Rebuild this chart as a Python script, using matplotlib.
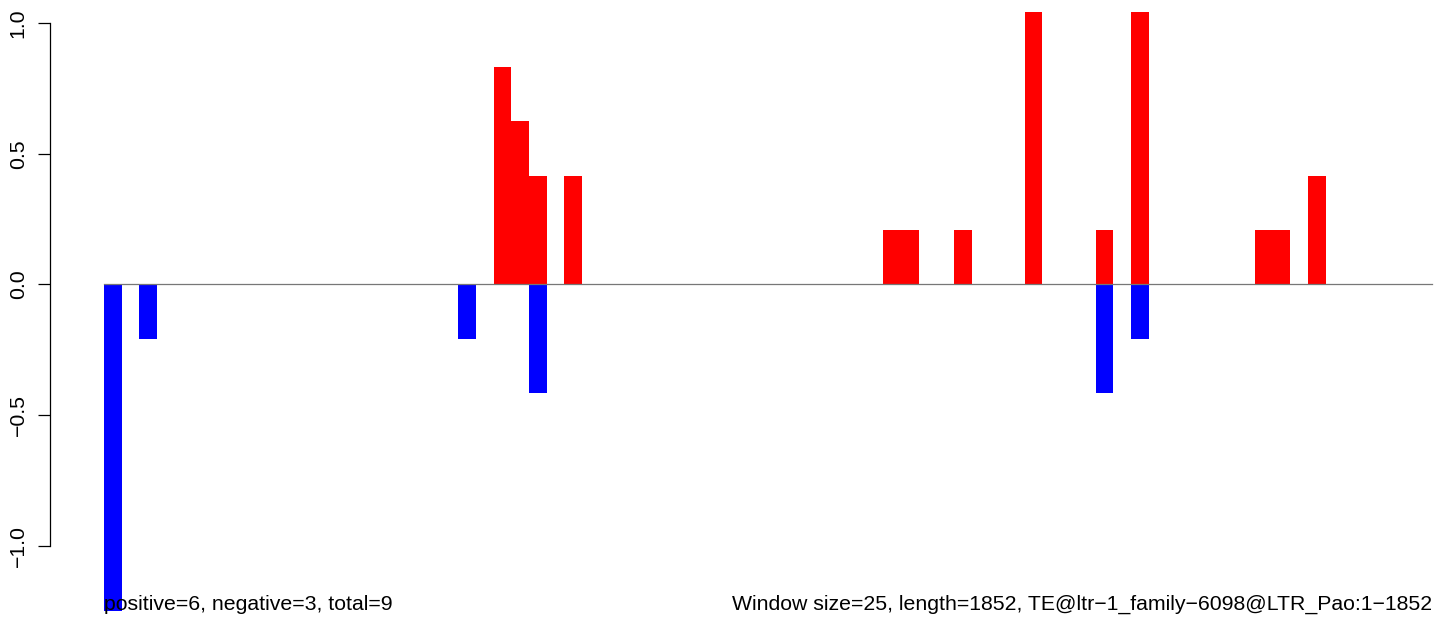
import matplotlib
matplotlib.use("Agg")
import matplotlib.pyplot as plt
import numpy as np

plt.rcParams['font.family'] = ['Liberation Sans', 'DejaVu Sans']

n_windows = 75
# window index -> score (positive strand in red, negative in blue)
pos_idx = [22, 23, 24, 26, 44, 45, 48, 52, 56, 58, 65, 66, 68]
pos_val = [0.833, 0.625, 0.417, 0.417, 0.208, 0.208, 0.208, 1.042, 0.208, 1.042, 0.208, 0.208, 0.417]
neg_idx = [0, 2, 20, 24, 56, 58]
neg_val = [-1.25, -0.208, -0.208, -0.417, -0.417, -0.208]

left_text = "positive=6, negative=3, total=9"
right_text = "Window size=25, length=1852, TE@ltr\u22121_family\u22126098@LTR_Pao:1\u22121852"

W, H = 1444, 622
fig = plt.figure(figsize=(W / 100, H / 100), dpi=100)
ax = fig.add_axes([50 / W, 0, 1 - 50 / W, 1])

px_per = (1432 - 104) / n_windows
ax.set_xlim(-54 / px_per, (W - 104) / px_per)
upp = 261.2
ax.set_ylim(-(H - 284.5) / upp, 284.5 / upp)

ax.bar(pos_idx, pos_val, width=1, align='edge', color='red', linewidth=0)
ax.bar(neg_idx, neg_val, width=1, align='edge', color='blue', linewidth=0)
ax.plot([0, n_windows], [0, 0], color='#777777', lw=0.9, zorder=3)

for s in ['top', 'right', 'bottom']:
    ax.spines[s].set_visible(False)
ax.spines['left'].set_bounds(-1, 1)
ax.spines['left'].set_linewidth(0.9)
ax.set_xticks([])
ax.set_yticks([-1.0, -0.5, 0.0, 0.5, 1.0])
ax.set_yticklabels(['\u22121.0', '\u22120.5', '0.0', '0.5', '1.0'], rotation=90, va='center', fontsize=15.3)
ax.tick_params(axis='y', length=8.6, width=0.9, pad=7.5)

ax.text(0, -1.225, left_text, ha='left', va='center', fontsize=15.3)
ax.text(n_windows, -1.225, right_text, ha='right', va='center', fontsize=15.3)

fig.savefig('out.png', dpi=100)
